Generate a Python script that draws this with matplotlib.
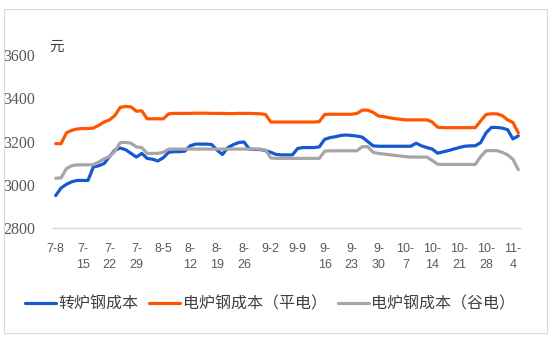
import matplotlib
matplotlib.use("Agg")
import matplotlib.pyplot as plt
from matplotlib.patches import Rectangle
import numpy as np

plt.rcParams['font.family'] = ['Noto Sans CJK SC', 'DejaVu Sans']

tick_labels = ["7-8", "7-\n15", "7-\n22", "7-\n29", "8-5", "8-\n12", "8-\n19", "8-\n26",
               "9-2", "9-9", "9-\n16", "9-\n23", "9-\n30", "10-\n7", "10-\n14", "10-\n21",
               "10-\n28", "11-\n4"]

series_names = ["转炉钢成本", "电炉钢成本（平电）", "电炉钢成本（谷电）"]

bof_cost = [2950, 2985, 3002, 3014, 3020, 3020, 3020, 3082, 3088, 3098,
            3130, 3160, 3170, 3162, 3145, 3128, 3145, 3122, 3118, 3110,
            3125, 3150, 3153, 3153, 3155, 3180, 3188, 3188, 3188, 3186,
            3160, 3140, 3172, 3185, 3195, 3198, 3165, 3163, 3163, 3158,
            3150, 3140, 3138, 3138, 3138, 3168, 3172, 3172, 3172, 3175,
            3210, 3218, 3222, 3228, 3230, 3228, 3225, 3220, 3200, 3180,
            3178, 3178, 3178, 3178, 3178, 3178, 3178, 3192, 3180, 3172,
            3165, 3146, 3152, 3158, 3165, 3172, 3178, 3180, 3180, 3195,
            3240, 3265, 3265, 3262, 3255, 3212, 3226]

eaf_flat = [3190, 3190, 3240, 3252, 3258, 3260, 3260, 3262, 3275, 3290,
            3300, 3320, 3358, 3362, 3360, 3340, 3342, 3305, 3305, 3305,
            3305, 3328, 3330, 3330, 3330, 3330, 3331, 3331, 3331, 3330,
            3330, 3330, 3329, 3329, 3330, 3330, 3330, 3329, 3328, 3325,
            3290, 3290, 3290, 3290, 3290, 3290, 3290, 3290, 3290, 3292,
            3325, 3326, 3326, 3326, 3326, 3326, 3330, 3345, 3345, 3335,
            3318, 3315, 3310, 3306, 3303, 3300, 3300, 3300, 3300, 3300,
            3290, 3266, 3264, 3264, 3264, 3264, 3264, 3264, 3264, 3295,
            3325, 3328, 3328, 3320, 3300, 3288, 3240]

eaf_valley = [3030, 3032, 3075, 3088, 3092, 3092, 3092, 3093, 3105, 3120,
              3130, 3155, 3195, 3196, 3192, 3175, 3172, 3145, 3145, 3145,
              3150, 3165, 3165, 3165, 3165, 3165, 3165, 3165, 3165, 3165,
              3165, 3165, 3165, 3165, 3165, 3165, 3165, 3165, 3165, 3160,
              3124, 3122, 3122, 3122, 3122, 3122, 3122, 3122, 3122, 3122,
              3155, 3157, 3157, 3157, 3157, 3157, 3157, 3176, 3176, 3150,
              3145, 3142, 3139, 3136, 3133, 3130, 3128, 3128, 3128, 3128,
              3112, 3095, 3094, 3094, 3094, 3094, 3094, 3094, 3094, 3130,
              3157, 3158, 3158, 3150, 3138, 3118, 3070]

colors = ["#1558D0", "#FF5500", "#A6A6A6"]

fig = plt.figure(figsize=(5.5, 3.54), dpi=100)
fig.patches.append(Rectangle((4/550, 1 - 333/354), 543/550, 324/354, transform=fig.transFigure,
                             fill=False, edgecolor="#D9D9D9", linewidth=0.8))
ax = fig.add_axes([53/550, 1 - 228/354, 468/550, 173/354])

x = np.arange(len(bof_cost))
for vals, c, name in zip([bof_cost, eaf_flat, eaf_valley], colors, series_names):
    ax.plot(x, vals, color=c, linewidth=2.3, label=name, solid_capstyle='round',
            solid_joinstyle='round')

ax.set_xlim(-0.5, len(bof_cost) - 0.5)
ax.set_ylim(2800, 3600)
ax.set_yticks([2800, 3000, 3200, 3400, 3600])
ax.set_xticks(np.arange(0, len(bof_cost), 5))
ax.set_xticklabels(tick_labels, fontsize=9, color="#595959", linespacing=1.45,
                   family=['Liberation Sans'])
for lab in ax.get_yticklabels():
    lab.set_family(['Liberation Serif'])
    lab.set_fontsize(11.5)
    lab.set_color("#595959")

for s in ['top', 'right', 'left']:
    ax.spines[s].set_visible(False)
ax.spines['bottom'].set_color("#D9D9D9")
ax.spines['bottom'].set_linewidth(1.0)
ax.tick_params(axis='both', length=0)
ax.tick_params(axis='x', pad=11)
ax.tick_params(axis='y', pad=13)

fig.text(57/550, 1 - 47/354, "元", fontsize=10.5, color="#404040", ha='center', va='center')

leg = fig.legend(loc='center', bbox_to_anchor=(270/550, 1 - 304/354), ncol=3, frameon=False,
                 fontsize=11.5, handlelength=1.95, handletextpad=0.15, columnspacing=0.7)
for t in leg.get_texts():
    t.set_color("#404040")

fig.savefig("out.png", dpi=100)
